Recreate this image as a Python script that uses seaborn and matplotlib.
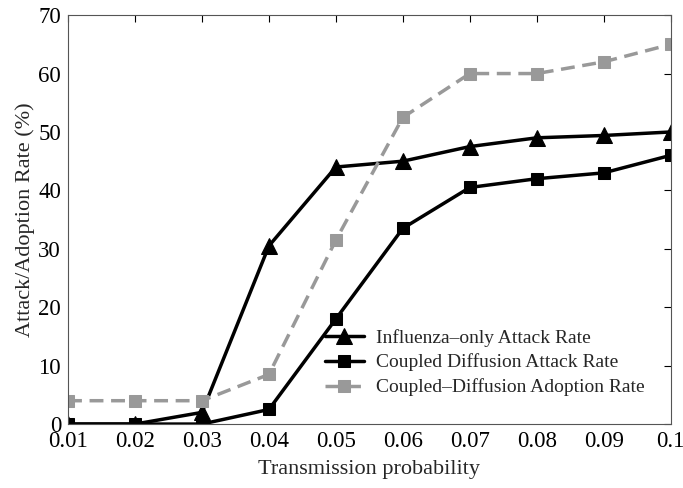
import numpy as np
import pandas as pd
import seaborn as sns
import matplotlib.pyplot as plt

# values
prob = [0.01, 0.02, 0.03, 0.04, 0.05, 0.06, 0.07, 0.08, 0.09, 0.1]
flu_only = [0, 0, 2, 30.5, 44, 45, 47.5, 49, 49.4, 50]
coupled_attack = [0, 0, 0, 2.5, 18, 33.5, 40.5, 42, 43, 46]
coupled_adoption = [4, 4, 4, 8.5, 31.5, 52.5, 60, 60, 62, 65]
tick_labels = ['0.01', '0.02', '0.03', '0.04', '0.05', '0.06', '0.07', '0.08', '0.09', '0.1']

sns.set_style('white')
plt.rcParams['font.family'] = ['Liberation Serif', 'DejaVu Serif']

fig = plt.figure(figsize=(6.83, 4.88), dpi=100)
ax = fig.add_axes([0.0996, 0.131, 0.8824, 0.838])

sns.lineplot(x=prob, y=flu_only, ax=ax, color='black', lw=2.5, marker='^',
             markersize=11, markeredgecolor='black', label='Influenza\u2013only Attack Rate')
sns.lineplot(x=prob, y=coupled_attack, ax=ax, color='black', lw=2.5, marker='s',
             markersize=8.5, markeredgecolor='black', label='Coupled Diffusion Attack Rate')
sns.lineplot(x=prob, y=coupled_adoption, ax=ax, color='#999999', lw=2.5, marker='s',
             markersize=8.5, markeredgecolor='#999999', linestyle='--',
             label='Coupled\u2013Diffusion Adoption Rate')
ax.lines[-1].set_dashes([4, 2.2])

ax.set_xlim(0.01, 0.1)
ax.set_ylim(0, 70)
ax.set_xticks(prob)
ax.set_xticklabels(tick_labels)
ax.set_yticks(range(0, 71, 10))
ax.tick_params(direction='in', top=True, right=True, length=5, width=0.8,
               labelsize=16.5, pad=5, colors='black')
for s in ax.spines.values():
    s.set_linewidth(0.8)
    s.set_color('#555555')

ax.set_xlabel('Transmission probability', fontsize=16, labelpad=6)
ax.set_ylabel('Attack/Adoption Rate (%)', fontsize=16, labelpad=2)

leg = ax.legend(loc='lower right', bbox_to_anchor=(0.985, 0.025), frameon=False,
                fontsize=14, handlelength=2.0, handletextpad=0.6, labelspacing=0.36)

fig.savefig('out.png', dpi=100)
